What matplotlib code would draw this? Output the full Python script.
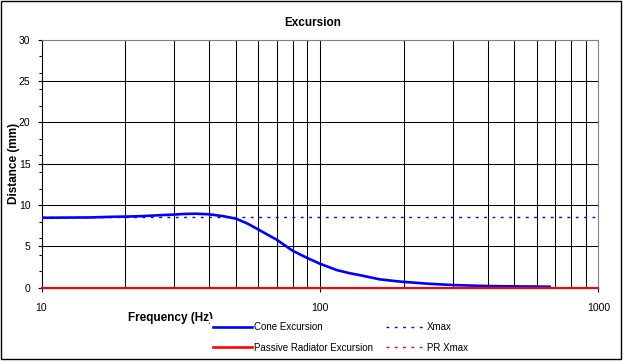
"""Excursion chart: cone and passive radiator excursion vs frequency."""

import matplotlib

matplotlib.use('Agg')

import matplotlib.pyplot as plt
from matplotlib.lines import Line2D
from matplotlib.patches import Rectangle

plt.rcParams['font.family'] = ['Liberation Sans', 'DejaVu Sans']

# data
freq = [10, 15, 18, 20, 23, 27, 30, 33, 36, 40, 45, 50, 55, 60, 65, 70,
        75, 80, 90, 100, 115, 128, 140, 164, 194, 245, 300, 400, 500, 668]
cone = [8.46, 8.5, 8.58, 8.6, 8.66, 8.78, 8.85, 8.93, 8.95, 8.88, 8.65,
        8.35, 7.75, 7.05, 6.4, 5.8, 5.1, 4.45, 3.6, 2.9, 2.13, 1.75, 1.5,
        1.01, 0.74, 0.48, 0.32, 0.2, 0.16, 0.12]
pr_freq = [10, 1000]
pr_excursion = [0, 0]
xmax = 8.5
pr_xmax = 0

x_grid = [20, 30, 40, 50, 60, 70, 80, 90, 100,
          200, 300, 400, 500, 600, 700, 800, 900]
x_labels = [10, 100, 1000]
y_ticks = [0, 5, 10, 15, 20, 25, 30]

W, H = 623, 361
DOT = (0, (2, 4))
fig = plt.figure(figsize=(W / 100, H / 100), dpi=100)
ax = fig.add_axes([41.5 / W, 1 - 287.7 / H, (598.3 - 41.5) / W, (287.7 - 39.7) / H])

for f in x_grid:
    ax.axvline(f, color='black', lw=0.75, zorder=1)
for y in y_ticks[1:-1]:
    ax.axhline(y, color='black', lw=0.75, zorder=1)

ax.plot([10, 1000], [pr_xmax, pr_xmax], color='red', lw=1.0, ls=DOT, zorder=2)
ax.plot([10, 1000], [xmax, xmax], color='blue', lw=1.0, ls=DOT, zorder=2)
ax.plot(freq, cone, color='blue', lw=1.9, zorder=3)
ax.plot(pr_freq, pr_excursion, color='red', lw=1.5, zorder=4, clip_on=False)

ax.set_xscale('log')
ax.set_xlim(10, 1000)
ax.set_ylim(0, 30)
ax.set_xticks(x_labels)
ax.set_xticklabels([str(v) for v in x_labels])
ax.set_xticks([], minor=True)
ax.set_yticks(y_ticks)
ax.set_yticks([v for v in range(2, 30, 2) if v % 5], minor=True)
ax.tick_params(axis='both', which='major', direction='out', length=3,
               width=0.8, labelsize=7.5, color='black')
ax.tick_params(axis='x', pad=8)
ax.tick_params(axis='y', pad=5)
ax.tick_params(axis='y', which='minor', direction='out', length=2, width=0.8)

for side in ('top', 'right'):
    ax.spines[side].set_color('#808080')
    ax.spines[side].set_linewidth(0.8)
for side in ('left', 'bottom'):
    ax.spines[side].set_linewidth(0.8)

ax.set_ylabel('Distance (mm)', fontsize=8.5, fontweight='bold')
# label anchor is the right edge of the rotated text
ax.yaxis.set_label_coords((19.5 - 41.5) / (598.3 - 41.5), 0.5)
fig.text(313 / W, 1 - 23 / H, 'Excursion', ha='center', va='center',
         fontsize=8.5, fontweight='bold')
fig.text(128 / W, 1 - 318 / H, 'Frequency (Hz)', ha='left', va='center',
         fontsize=8.5, fontweight='bold')

handles = [
    Line2D([], [], color='blue', lw=1.9),
    Line2D([], [], color='red', lw=1.9),
    Line2D([], [], color='blue', lw=1.0, ls=DOT),
    Line2D([], [], color='red', lw=1.0, ls=DOT),
]
labels = ['Cone Excursion', 'Passive Radiator Excursion', 'Xmax', 'PR Xmax']
leg = fig.legend(handles, labels, ncol=2, loc='upper left',
                 bbox_to_anchor=(210 / W, 1 - 319 / H), fontsize=7,
                 frameon=True, fancybox=False, borderpad=0.3,
                 handlelength=4.0, handletextpad=0.25, columnspacing=1.3,
                 labelspacing=1.1, borderaxespad=0)
leg.get_frame().set_edgecolor('none')
leg.get_frame().set_facecolor('white')
leg.get_frame().set_alpha(1)

fig.add_artist(Rectangle((1 / W, 1 - 359.3 / H), 619.5 / W, 358.8 / H,
                         transform=fig.transFigure, fill=False,
                         edgecolor='black', lw=1))

fig.savefig('out.png', dpi=100)
